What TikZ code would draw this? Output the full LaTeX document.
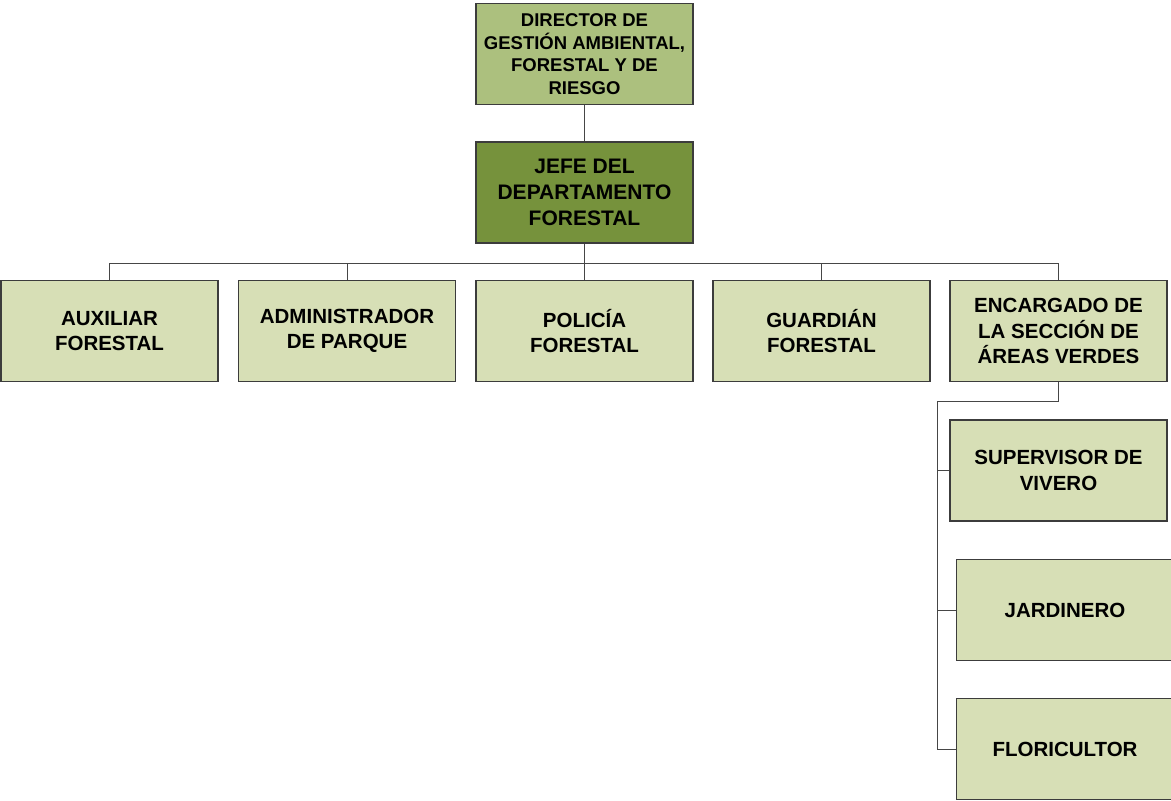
\documentclass[tikz,border=0pt]{standalone}
\usepackage{fontspec}
\setmainfont{Liberation Sans}
\definecolor{dirfill}{RGB}{172,192,126}
\definecolor{jefefill}{RGB}{118,146,60}
\definecolor{boxfill}{RGB}{215,223,182}
\definecolor{boxline}{RGB}{60,60,60}
\definecolor{conline}{RGB}{70,70,70}
\tikzset{
  orgbox/.style={draw=boxline, line width=1.3pt, fill=boxfill, rectangle,
    minimum width=217pt, minimum height=101pt, inner sep=2pt, align=center,
    font=\fontsize{20.5}{25.5}\selectfont\bfseries},
  dirbox/.style={orgbox, fill=dirfill, font=\fontsize{18.5}{22.7}\selectfont\bfseries},
  jefebox/.style={orgbox, fill=jefefill, font=\fontsize{21}{26}\selectfont\bfseries},
  con/.style={draw=conline, line width=1pt}
}
\begin{document}
\begin{tikzpicture}[x=1pt,y=-1pt]
\useasboundingbox (0,0) rectangle (1171,801);
\begin{scope}
\clip (0,0) rectangle (1171,801);
\node[dirbox] (dir) at (584.5,54) {DIRECTOR DE\\GESTIÓN AMBIENTAL,\\FORESTAL Y DE\\RIESGO};
\node[jefebox] (jefe) at (584.5,192.5) {JEFE DEL\\DEPARTAMENTO\\FORESTAL};
\node[orgbox] (aux) at (109.5,331) {AUXILIAR\\FORESTAL};
\node[orgbox] (adm) at (347,331) {ADMINISTRADOR\\DE PARQUE};
\node[orgbox] (pol) at (584.5,331) {POLICÍA\\FORESTAL};
\node[orgbox] (gua) at (821.5,331) {GUARDIÁN\\FORESTAL};
\node[orgbox] (enc) at (1058.5,331) {ENCARGADO DE\\LA SECCIÓN DE\\ÁREAS VERDES};
\node[orgbox] (sup) at (1058.5,470.5) {SUPERVISOR DE\\VIVERO};
\node[orgbox] (jar) at (1065,610) {JARDINERO};
\node[orgbox] (flo) at (1065,749) {FLORICULTOR};
\coordinate (trunk) at (937,401);
\draw[con] (dir.south) -- (jefe.north);
\foreach \c in {aux,adm,pol,gua,enc}{
  \draw[con] (jefe.south) -- ++(0,20) -| (\c.north);
}
\draw[con] (enc.south) |- (trunk);
\draw[con] (trunk) |- (sup.west);
\draw[con] (trunk) |- (jar.west);
\draw[con] (trunk) |- (flo.west);
\end{scope}
\end{tikzpicture}
\end{document}
